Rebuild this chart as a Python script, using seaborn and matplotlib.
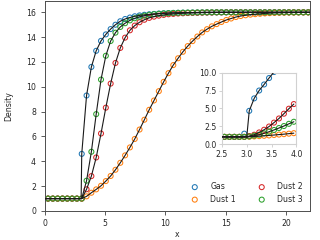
import numpy as np
import matplotlib
matplotlib.use("Agg")
import matplotlib.pyplot as plt
import seaborn as sns

# ---------------- data ----------------
series = ["Gas", "Dust 1", "Dust 2", "Dust 3"]
colors = ["#1f77b4", "#ff7f0e", "#d62728", "#2ca02c"]

# main panel sample positions
x_main = np.round(0.25 + 0.4 * np.arange(55), 2)

gas = [1.0, 1.0, 1.0, 1.0, 1.0, 1.0, 1.0, 4.6, 9.3, 11.6,
       12.9, 13.7, 14.22, 14.65, 15.0, 15.28, 15.46, 15.58, 15.68, 15.75,
       15.8, 15.84, 15.87, 15.9, 15.92, 15.94, 15.95, 15.96, 15.97, 15.97,
       15.98, 15.98, 15.99, 15.99, 15.99, 16.0, 16.0, 16.0, 16.0, 16.0,
       16.0, 16.0, 16.0, 16.0, 16.0, 16.0, 16.0, 16.0, 16.0, 16.0,
       16.0, 16.0, 16.0, 16.0, 16.0]
dust1 = [1.0, 1.0, 1.0, 1.0, 1.0, 1.0, 1.0, 1.0, 1.18, 1.47,
         1.74, 2.03, 2.41, 2.82, 3.32, 3.88, 4.48, 5.12, 5.8, 6.56,
         7.35, 8.15, 8.9, 9.65, 10.4, 11.1, 11.75, 12.3, 12.82, 13.28,
         13.68, 14.05, 14.38, 14.64, 14.87, 15.05, 15.22, 15.38, 15.5, 15.62,
         15.7, 15.76, 15.81, 15.85, 15.88, 15.91, 15.93, 15.95, 15.96, 15.97,
         15.98, 15.98, 15.99, 15.99, 15.99]
dust2 = [1.0, 1.0, 1.0, 1.0, 1.0, 1.0, 1.0, 1.0, 1.75, 2.81,
         4.31, 6.24, 8.32, 10.26, 11.92, 13.13, 13.96, 14.55, 14.93, 15.2,
         15.4, 15.55, 15.65, 15.73, 15.79, 15.84, 15.87, 15.9, 15.92, 15.94,
         15.95, 15.96, 15.97, 15.98, 15.98, 15.99, 15.99, 16.0, 16.0, 16.0,
         16.0, 16.0, 16.0, 16.0, 16.0, 16.0, 16.0, 16.0, 16.0, 16.0,
         16.0, 16.0, 16.0, 16.0, 16.0]
dust3 = [1.0, 1.0, 1.0, 1.0, 1.0, 1.0, 1.0, 1.0, 2.44, 4.77,
         7.8, 10.58, 12.5, 13.69, 14.36, 14.82, 15.12, 15.35, 15.52, 15.64,
         15.73, 15.8, 15.85, 15.88, 15.91, 15.93, 15.95, 15.96, 15.97, 15.98,
         15.98, 15.99, 15.99, 16.0, 16.0, 16.0, 16.0, 16.0, 16.0, 16.0,
         16.0, 16.0, 16.0, 16.0, 16.0, 16.0, 16.0, 16.0, 16.0, 16.0,
         16.0, 16.0, 16.0, 16.0, 16.0]

# inset sample positions and values
x_inset = np.round(2.55 + 0.1 * np.arange(15), 2)
gas_in = [1.0, 1.0, 1.0, 1.0, 1.45, 4.65, 6.4, 7.5, 8.35, 9.25,
          10.1, 10.8, 11.35, 11.8, 12.2]
dust1_in = [1.0, 1.0, 1.0, 1.0, 1.0, 1.02, 1.06, 1.1, 1.15, 1.2,
            1.26, 1.32, 1.38, 1.45, 1.52]
dust2_in = [1.0, 1.0, 1.0, 1.0, 1.0, 1.12, 1.3, 1.62, 2.0, 2.45,
            3.0, 3.58, 4.25, 4.95, 5.6]
dust3_in = [1.0, 1.0, 1.0, 1.0, 1.0, 1.05, 1.17, 1.3, 1.5, 1.72,
            1.97, 2.24, 2.52, 2.83, 3.12]

# exact-solution knots (pre-shock state and shock position)
pre_state = 1.0
x_shock = 3.0
post_state = 16.0
x_end = 22.0

main_vals = [gas, dust1, dust2, dust3]
inset_vals = [gas_in, dust1_in, dust2_in, dust3_in]

# ---------------- plotting ----------------
sns.set_theme(style="ticks")
plt.rcParams['font.family'] = ['DejaVu Sans']
fs = 5.6

fig = plt.figure(figsize=(3.2, 2.4), dpi=100)
ax = fig.add_axes([45 / 320, 1 - 211 / 240, (310 - 45) / 320, (211 - 0.5) / 240])

handles = []
for name, col, vals in zip(series, colors, main_vals):
    sns.scatterplot(x=x_main, y=vals, ax=ax, color=col, facecolor="none",
                    edgecolor=col, linewidth=0.75, s=13, label=name,
                    legend=False, zorder=2)
    handles.append(ax.collections[-1])
    keep = x_main > x_shock
    lx = [0.0, x_shock] + list(x_main[keep]) + [x_end]
    ly = [pre_state, pre_state] + list(np.array(vals)[keep]) + [post_state]
    sns.lineplot(x=lx, y=ly, ax=ax, color="k", lw=0.8, estimator=None,
                 sort=False, legend=False, zorder=3)

ax.set_xlim(0, 22)
ax.set_ylim(0, 16.95)
ax.set_xticks([0, 5, 10, 15, 20])
ax.set_yticks(np.arange(0, 17, 2))
ax.set_xlabel("x", fontsize=fs, labelpad=1.5)
ax.set_ylabel("Density", fontsize=fs, labelpad=9)
ax.tick_params(labelsize=fs, length=3, width=0.6, colors="0.25",
               labelcolor="0.15")
ax.tick_params(axis="x", pad=2.5)
ax.tick_params(axis="y", pad=3.5)
for sp in ax.spines.values():
    sp.set_color("0.3")
    sp.set_linewidth(0.7)
    sp.set_visible(True)

ax.legend(handles, series, ncol=2, frameon=False, fontsize=fs,
          loc="lower right", bbox_to_anchor=(0.985, 0.02), borderaxespad=0,
          handletextpad=1.0, columnspacing=2.3, labelspacing=0.45,
          handlelength=2.0)

# ---------------- inset ----------------
axin = fig.add_axes([222 / 320, 1 - 144 / 240, 74.3 / 320, 71.3 / 240])
for name, col, vals in zip(series, colors, inset_vals):
    sns.scatterplot(x=x_inset, y=vals, ax=axin, color=col, facecolor="none",
                    edgecolor=col, linewidth=0.75, s=13, legend=False,
                    zorder=2, clip_on=True)
    keep = x_inset > x_shock
    lx = [2.5, x_shock] + list(x_inset[keep])
    ly = [pre_state, pre_state] + list(np.array(vals)[keep])
    sns.lineplot(x=lx, y=ly, ax=axin, color="k", lw=0.8, estimator=None,
                 sort=False, legend=False, zorder=3)
axin.set_xlim(2.5, 4.0)
axin.set_ylim(0, 10)
axin.set_xticks([2.5, 3.0, 3.5, 4.0])
axin.set_yticks([0, 2.5, 5.0, 7.5, 10.0])
axin.set_xticklabels(["2.5", "3.0", "3.5", "4.0"])
axin.set_yticklabels(["0.0", "2.5", "5.0", "7.5", "10.0"])
axin.set_xlabel("")
axin.set_ylabel("")
axin.tick_params(labelsize=fs, length=2.5, width=0.6, pad=1.5, colors="0.8",
                 labelcolor="0.15")
for sp in axin.spines.values():
    sp.set_color("0.82")
    sp.set_linewidth(0.8)
    sp.set_visible(True)

fig.savefig("out.png", dpi=100)
